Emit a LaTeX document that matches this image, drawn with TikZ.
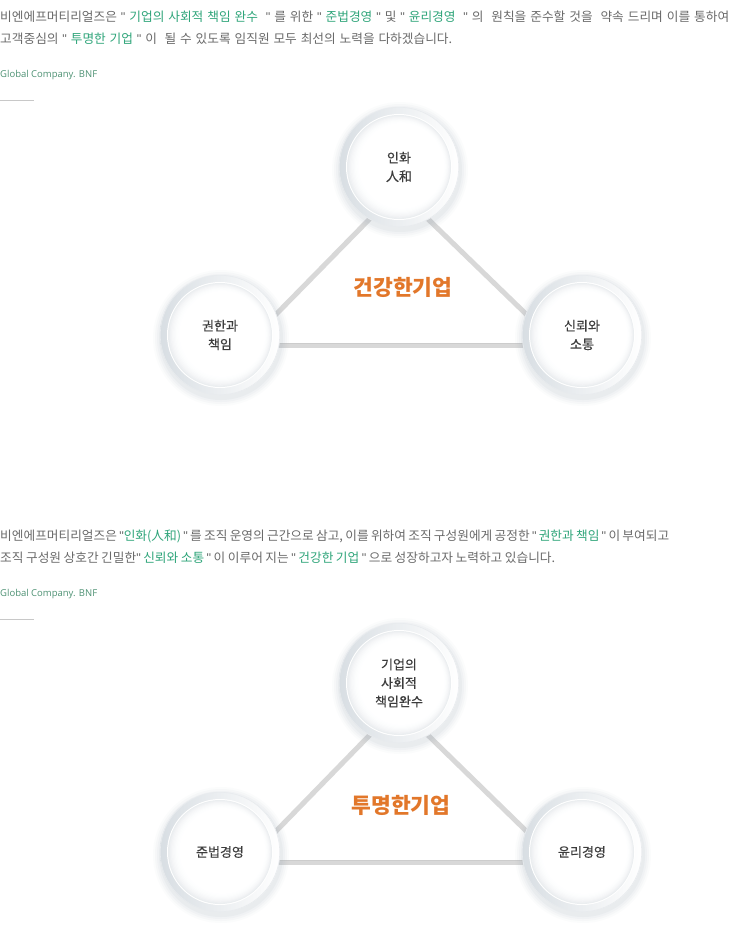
\documentclass[tikz,border=0pt]{standalone}
\usepackage{fontspec}
\setmainfont{Noto Sans CJK KR}
\newfontfamily\latinfont{Open Sans}
\newfontfamily\quotefont{Liberation Sans}
\newfontfamily\lblfont[FakeBold=0.35]{Noto Sans CJK KR}
\definecolor{bodyc}{HTML}{6A6A6A}
\definecolor{greenc}{HTML}{2FA57A}
\definecolor{globc}{HTML}{4E9274}
\definecolor{orangec}{HTML}{E2772A}
\definecolor{labelc}{HTML}{3C3C3C}
\definecolor{linec}{HTML}{D8D8D8}
\definecolor{linedk}{HTML}{CCCCCC}
\definecolor{bandc}{HTML}{CDD4DA}
\definecolor{ringc}{HTML}{D8DEE3}
\definecolor{shadowc}{HTML}{9AA8B4}
\definecolor{ruledc}{HTML}{C8C8C8}
\newcommand\G[1]{\textcolor{greenc}{#1}}
\newcommand\Q{{\quotefont"}}
\newcommand\bnfring[1]{%
  \foreach \r/\o in {68/0.03,66/0.05,64/0.06,62/0.08}
    \fill[shadowc,opacity=\o] ([shift={(1,3)}]#1) circle[radius=\r pt];
  \shade[shading angle=60,left color=ringc,right color=white] (#1) circle[radius=60pt];
  \draw[ringc!60!white,line width=0.6pt] (#1) circle[radius=59.7pt];
  \fill[white] (#1) circle[radius=53pt];
  \foreach \r/\c/\s in {52/40/0,51/32/0.3,50/25/0.6,49/19/0.9,48/14/1.2,47/9/1.5,46/5/1.8,45/3/2.1,44/1/2.4,43/0/2.7}
    \fill[bandc!\c!white] ([shift={(\s*0.9,-\s*0.4)}]#1) circle[radius=\r pt];
}
\tikzset{
  bodytext/.style={anchor=west,inner sep=0pt,text=bodyc,font=\fontsize{12.7}{14}\selectfont},
  globtext/.style={anchor=west,inner sep=0pt,text=globc,font=\latinfont\fontsize{9.5}{11}\selectfont},
  lbl/.style={align=center,inner sep=0pt,text=labelc,font=\lblfont\fontsize{13}{18.5}\selectfont},
  ttl/.style={inner sep=0pt,text=orangec,font=\bfseries\fontsize{21.5}{24}\selectfont},
  tri/.style={linec,line width=5pt},
  trib/.style={linedk,line width=1.6pt},
  rule/.style={ruledc,line width=0.8pt}
}
\begin{document}
\begin{tikzpicture}[x=1pt,y=-1pt]
\useasboundingbox[fill=white] (0,0) rectangle (735,935);
% ---------- paragraph 1
\node[bodytext] (p1a) at (0,17) {\makebox[729pt][s]{비엔에프머티리얼즈은 \Q{} \G{기업의 사회적 책임 완수}~ \Q{} 를 위한 \Q{} \G{준법경영} \Q{} 및 \Q{} \G{윤리경영}~ \Q{} 의~ 원칙을 준수할 것을~ 약속 드리며 이를 통하여}};
\node[bodytext] (p1b) at (0,39) {\makebox[452pt][s]{고객중심의 \Q{} \G{투명한 기업} \Q{} 이~ 될 수 있도록 임직원 모두 최선의 노력을 다하겠습니다.}};
\node[globtext] (g1) at (0,75) {Global Company. BNF};
\coordinate (r1a) at (0,100); \coordinate (r1b) at (34,100);
\draw[rule] (r1a) -- (r1b);
% ---------- diagram 1
\coordinate (c1t) at (399,167);
\coordinate (c1l) at (220,335);
\coordinate (c1r) at (582,335);
\coordinate (v1t) at (398,190);
\coordinate (v1l) at (246,345);
\coordinate (v1r) at (558,345);
\draw[tri] (v1t) -- (v1l);
\draw[tri] (v1t) -- (v1r);
\draw[tri] (v1l) -- (v1r);
\draw[trib] ([yshift=1.5pt]v1l) -- ([yshift=1.5pt]v1r);
\bnfring{c1t}\bnfring{c1l}\bnfring{c1r}
\node[lbl] (n1t) at (c1t) {인화\\人和};
\node[lbl] (n1l) at (c1l) {권한과\\책임};
\node[lbl] (n1r) at (c1r) {신뢰와\\소통};
\node[ttl] (t1) at (403,287) {건강한기업};
% ---------- paragraph 2
\node[bodytext] (p2a) at (0,536) {\makebox[669pt][s]{비엔에프머티리얼즈은 \Q\G{인화(人和)} \Q{} 를 조직 운영의 근간으로 삼고, 이를 위하여 조직 구성원에게 공정한 \Q{} \G{권한과 책임} \Q{} 이 부여되고}};
\node[bodytext] (p2b) at (0,558) {\makebox[555pt][s]{조직 구성원 상호간 긴밀한\Q{} \G{신뢰와 소통} \Q{} 이 이루어 지는 \Q{} \G{건강한 기업} \Q{} 으로 성장하고자 노력하고 있습니다.}};
\node[globtext] (g2) at (0,594) {Global Company. BNF};
\coordinate (r2a) at (0,619); \coordinate (r2b) at (34,619);
\draw[rule] (r2a) -- (r2b);
% ---------- diagram 2
\coordinate (c2t) at (399,683);
\coordinate (c2l) at (220,852);
\coordinate (c2r) at (582,852);
\coordinate (v2t) at (398,706);
\coordinate (v2l) at (246,862);
\coordinate (v2r) at (558,862);
\draw[tri] (v2t) -- (v2l);
\draw[tri] (v2t) -- (v2r);
\draw[tri] (v2l) -- (v2r);
\draw[trib] ([yshift=1.5pt]v2l) -- ([yshift=1.5pt]v2r);
\bnfring{c2t}\bnfring{c2l}\bnfring{c2r}
\node[lbl] (n2t) at (c2t) {기업의\\사회적\\책임완수};
\node[lbl] (n2l) at (c2l) {준법경영};
\node[lbl] (n2r) at (c2r) {윤리경영};
\node[ttl] (t2) at (401,805) {투명한기업};
\end{tikzpicture}
\end{document}
